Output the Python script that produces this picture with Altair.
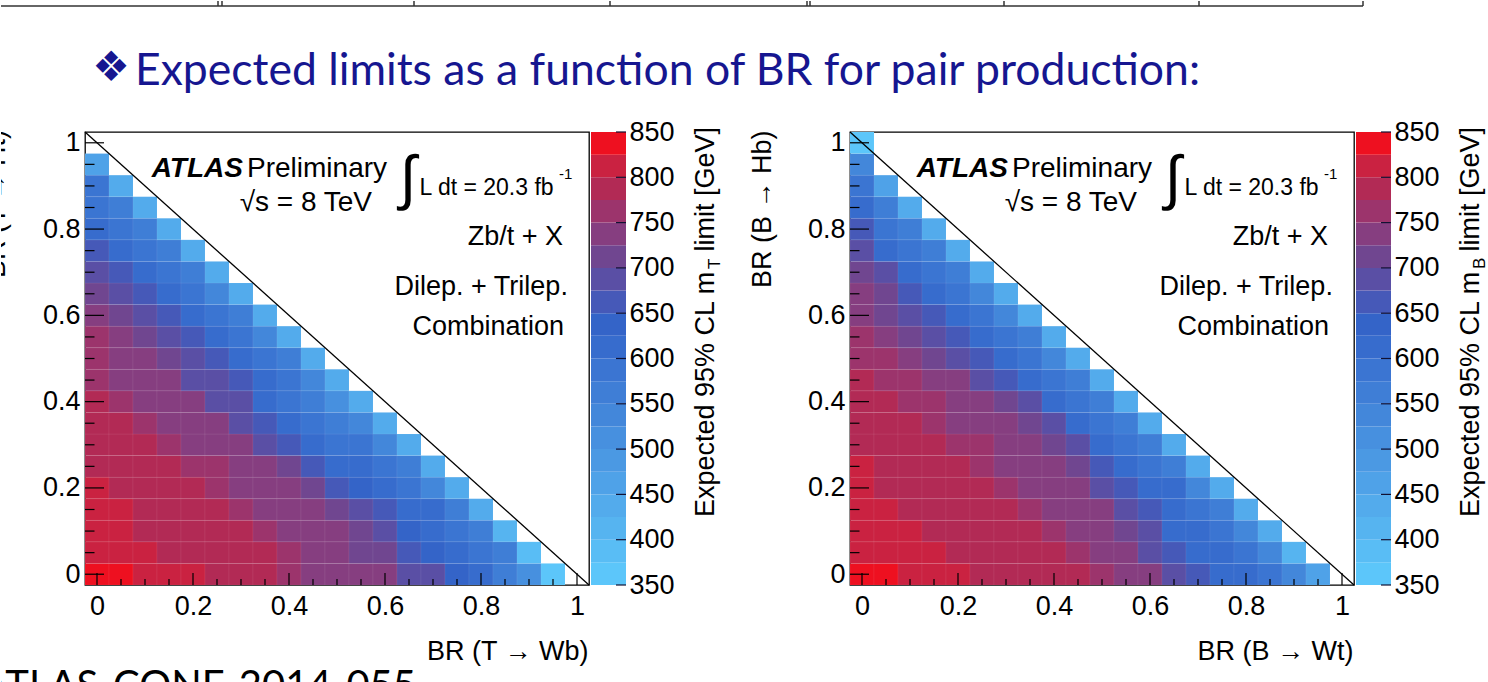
import altair as alt
import pandas as pd

# ---------------------------------------------------------------- data ----
BR_STEP = 0.05  # spacing of the branching-ratio scan

# Expected 95% CL lower limits on the vector-like quark mass [GeV].
# Row j is BR(Q -> Hq) = 0.05*j, entry i of a row is BR(Q -> Wq') = 0.05*i.
t_limits = [
    [825, 840, 820, 815, 805, 790, 785, 780, 760, 745, 735, 735, 740, 690, 675, 625, 600, 570, 520, 370],
    [815, 815, 805, 785, 780, 780, 780, 775, 760, 745, 730, 720, 705, 670, 625, 600, 595, 570, 380],
    [815, 815, 785, 780, 780, 780, 775, 760, 745, 735, 725, 705, 680, 625, 610, 595, 560, 420],
    [815, 805, 780, 780, 780, 780, 760, 745, 735, 725, 705, 690, 665, 615, 600, 570, 430],
    [805, 785, 780, 780, 780, 760, 745, 740, 725, 705, 670, 640, 610, 590, 545, 430],
    [785, 780, 780, 780, 760, 755, 740, 735, 705, 670, 615, 600, 580, 550, 430],
    [780, 780, 780, 760, 745, 740, 725, 690, 670, 620, 595, 575, 545, 440],
    [780, 775, 755, 745, 740, 725, 685, 670, 610, 595, 570, 545, 430],
    [780, 760, 745, 740, 725, 685, 675, 615, 595, 570, 520, 430],
    [765, 745, 740, 725, 690, 675, 665, 610, 585, 545, 430],
    [765, 745, 740, 705, 685, 665, 610, 595, 560, 430],
    [755, 740, 700, 685, 665, 610, 580, 540, 430],
    [745, 705, 685, 665, 615, 595, 550, 430],
    [705, 690, 665, 615, 590, 545, 435],
    [690, 665, 615, 595, 555, 430],
    [670, 615, 585, 560, 430],
    [610, 590, 570, 430],
    [590, 550, 440],
    [575, 425],
    [450],
]

b_limits = [
    [840, 825, 820, 815, 805, 790, 785, 785, 780, 775, 765, 745, 740, 690, 670, 620, 600, 575, 525, 450],
    [815, 815, 815, 815, 790, 785, 780, 780, 775, 760, 745, 735, 685, 665, 610, 600, 585, 545, 420],
    [815, 815, 805, 785, 780, 780, 780, 780, 760, 745, 740, 705, 675, 615, 600, 585, 545, 430],
    [815, 805, 785, 785, 780, 780, 780, 760, 745, 740, 725, 685, 665, 610, 595, 550, 430],
    [805, 785, 785, 780, 780, 780, 760, 745, 740, 725, 685, 670, 620, 600, 545, 430],
    [805, 785, 780, 780, 780, 760, 745, 740, 735, 705, 665, 610, 595, 550, 430],
    [785, 780, 780, 780, 760, 755, 740, 735, 720, 685, 620, 595, 550, 435],
    [780, 780, 780, 760, 745, 740, 735, 705, 675, 620, 595, 555, 430],
    [780, 780, 760, 755, 740, 735, 705, 675, 615, 595, 555, 430],
    [780, 760, 755, 740, 735, 685, 665, 610, 595, 550, 430],
    [765, 760, 740, 720, 685, 665, 610, 595, 545, 430],
    [765, 740, 720, 690, 670, 610, 595, 550, 430],
    [735, 720, 685, 665, 610, 585, 540, 430],
    [725, 705, 670, 620, 595, 545, 430],
    [720, 675, 615, 595, 555, 435],
    [685, 620, 595, 555, 430],
    [650, 595, 560, 435],
    [610, 570, 435],
    [595, 460],
    [545],
    [370],
]

axis_ticks = [0, 0.2, 0.4, 0.6, 0.8, 1.0]
minor_ticks = [0.05, 0.1, 0.15, 0.25, 0.3, 0.35, 0.45, 0.5, 0.55,
               0.65, 0.7, 0.75, 0.85, 0.9, 0.95]

band_edges = [350, 375, 400, 425, 450, 475, 500, 525, 550, 575, 600,
              625, 650, 675, 700, 725, 750, 775, 800, 825, 850]
bar_ticks = [350, 400, 450, 500, 550, 600, 650, 700, 750, 800, 850]
palette = [
    "#5cc6fa", "#59bdf5", "#56b4f0", "#53abec", "#4fa2e8",
    "#4b99e3", "#4790df", "#4387da", "#3f7ed6", "#3b75d2",
    "#376ccd", "#3464c8", "#4659b8", "#5a4fa5", "#704690",
    "#863e80", "#9c346c", "#b22a55", "#ca2241", "#ee1020",
]

headline = "Expected limits as a function of BR for pair production:"
bullet = "\u2756"
reference_note = "ATLAS-CONF-2014-055"
table_edges = [217, 221, 413, 609, 806, 809, 1003, 1198, 1362]

label_lines = ["Zb/t + X", "Dilep. + Trilep.", "Combination"]

# -------------------------------------------------------------- layout ----
FONT = "Liberation Sans"
SLIDE_FONT = "Lato"
SLIDE_BLUE = "#161690"
PANEL_W, PANEL_H = 504, 453
BAR_W = 35
GUTTER_W = 84
HEADER_W, HEADER_H = 1400, 117
FOOTER_W, FOOTER_H = 600, 20
TXT = 27

LO, HI = -BR_STEP / 2, 1 + BR_STEP / 2
limit_scale = alt.Scale(type="quantize", domain=[350, 850], range=palette)


def one_row(**kw):
    return pd.DataFrame({k: [v] for k, v in kw.items()})


def panel(limits, x_title, y_title=None):
    recs = []
    for j, row in enumerate(limits):
        for i, v in enumerate(row):
            cx, cy = i * BR_STEP, j * BR_STEP
            recs.append({"x0": cx - BR_STEP / 2, "x1": cx + BR_STEP / 2,
                         "y0": cy - BR_STEP / 2, "y1": cy + BR_STEP / 2,
                         "limit": v})
    cells = pd.DataFrame(recs)

    br_x = alt.Scale(domain=[LO, HI], nice=False, zero=False)
    br_y = alt.Scale(domain=[LO, HI], nice=False, zero=False)
    x_axis = alt.Axis(values=axis_ticks, format="~g", title=x_title,
                      labelPadding=8, labelFlush=False, labelOverlap=False,
                      titleX=PANEL_W - 1, titleY=74, titleAlign="right",
                      titleBaseline="alphabetic", titleAngle=0)
    y_kw = dict(values=axis_ticks, format="~g", labelPadding=5,
                labelFlush=False, labelOverlap=False)
    if y_title:
        y_kw.update(title=y_title, titleX=-80, titleY=-2, titleAngle=270,
                    titleAlign="right", titleBaseline="alphabetic")
    else:
        y_kw.update(title="")
    y_axis = alt.Axis(**y_kw)

    def X(f):
        return alt.X(f, type="quantitative", scale=br_x, axis=x_axis)

    def Y(f):
        return alt.Y(f, type="quantitative", scale=br_y, axis=y_axis)

    heat = alt.Chart(cells).mark_rect(stroke="#ffffff", strokeWidth=0.6,
                                      strokeOpacity=0.1).encode(
        x=X("x0"), x2="x1:Q", y=Y("y0"), y2="y1:Q",
        color=alt.Color("limit:Q", scale=limit_scale, legend=None),
    )

    diag = alt.Chart(one_row(a=LO, b=HI)).mark_rule(
        color="black", strokeWidth=1.3).encode(
        x=X("a"), y=Y("b"), x2="b:Q", y2="a:Q")

    # ROOT-style ticks drawn inside the frame
    bx_len = 12 / PANEL_H * (HI - LO)
    ly_len = 19 / PANEL_W * (HI - LO)
    tick_rows = ([{"t": t, "bl": LO + bx_len, "ll": LO + ly_len} for t in axis_ticks] +
                 [{"t": t, "bl": LO + bx_len / 2, "ll": LO + ly_len / 2} for t in minor_ticks])
    ticks = pd.DataFrame(tick_rows)
    ticks["lo"] = LO
    bottom_ticks = alt.Chart(ticks).mark_rule(color="black", strokeWidth=1.2).encode(
        x=X("t"), y=Y("lo"), y2="bl:Q")
    left_ticks = alt.Chart(ticks).mark_rule(color="black", strokeWidth=1.2).encode(
        y=Y("t"), x=X("lo"), x2="ll:Q")

    def txt(text, x, y, align="left", size=TXT, **style):
        return alt.Chart(one_row(s=text, x=x, y=y)).mark_text(
            align=align, baseline="alphabetic", font=FONT, fontSize=size,
            color="black", **style).encode(x=X("x"), y=Y("y"), text="s:N")

    notes = [
        txt("ATLAS", 0.304, 0.921, align="right", size=28,
            fontWeight="bold", fontStyle="italic"),
        txt("Preliminary", 0.3125, 0.921, size=28),
        txt("\u221As = 8 TeV", 0.573, 0.842, align="right", size=28),
        txt("\u222B", 0.648, 0.872, align="center", size=60),
        txt("L dt = 20.3 fb", 0.672, 0.879, size=23),
        txt("-1", 0.9625, 0.916, size=15),
        txt(label_lines[0], 0.971, 0.763, align="right"),
        txt(label_lines[1], 0.981, 0.647, align="right"),
        txt(label_lines[2], 0.973, 0.555, align="right"),
    ]

    return alt.layer(heat, diag, bottom_ticks, left_ticks, *notes).properties(
        width=PANEL_W, height=PANEL_H,
        view=alt.ViewBackground(stroke="black", strokeWidth=1.3))


def colour_bar(sub):
    bands = pd.DataFrame({"lo": band_edges[:-1], "hi": band_edges[1:]})
    bands["mid"] = (bands["lo"] + bands["hi"]) / 2
    v_scale = alt.Scale(domain=[band_edges[0], band_edges[-1]], nice=False, zero=False)
    v_axis = alt.Axis(values=bar_ticks, orient="right", labelPadding=3,
                      labelFlush=False, labelOverlap=False, title="")

    bar = alt.Chart(bands).mark_rect().encode(
        x=alt.value(0), x2=alt.value(BAR_W),
        y=alt.Y("lo:Q", scale=v_scale, axis=v_axis), y2="hi:Q",
        color=alt.Color("mid:Q", scale=limit_scale, legend=None))
    ticks = alt.Chart(pd.DataFrame({"v": bar_ticks})).mark_rule(
        color="#111133", strokeWidth=1.2).encode(
        y=alt.Y("v:Q", scale=v_scale, axis=v_axis),
        x=alt.value(BAR_W - 10), x2=alt.value(BAR_W))

    def rot(text, x, y, align, size):
        return alt.Chart(one_row(s=text)).mark_text(
            angle=270, align=align, baseline="alphabetic", font=FONT,
            fontSize=size, color="black").encode(
            text="s:N", x=alt.value(x), y=alt.value(y))

    # axis title with a subscripted quark label, read bottom to top
    title = [
        rot("Expected 95% CL m", 123, 385, "left", TXT),
        rot(sub, 129, 137, "left", 17),
        rot("limit [GeV]", 123, -5, "right", TXT),
    ]
    return alt.layer(bar, ticks, *title).properties(width=BAR_W, height=PANEL_H)


def spacer(w):
    return alt.Chart(one_row(s="")).mark_text().encode(
        text="s:N", x=alt.value(0), y=alt.value(0)).properties(width=w, height=PANEL_H)


gutter = alt.Chart(one_row(s="BR (T \u2192 Ht)")).mark_text(
    angle=270, align="right", baseline="alphabetic", font=FONT, fontSize=TXT,
    color="black", clip=True).encode(
    text="s:N", x=alt.value(GUTTER_W - 80), y=alt.value(-2)).properties(
    width=GUTTER_W, height=PANEL_H)

left = panel(t_limits, "BR (T \u2192 Wb)")
right = panel(b_limits, "BR (B \u2192 Wt)", "BR (B \u2192 Hb)")

body = alt.hconcat(
    gutter, left, spacer(2), colour_bar("T"), spacer(224),
    right, spacer(2), colour_bar("B"),
    spacing=0, bounds="flush",
).resolve_scale(color="independent")

# slide header: edge of the table above and the headline
slide_x = alt.Scale(domain=[0, HEADER_W], nice=False, zero=False)
table_v = alt.Chart(pd.DataFrame({"x": table_edges})).mark_rule(
    color="#333333", strokeWidth=1.5).encode(
    x=alt.X("x:Q", scale=slide_x, axis=None), y=alt.value(0), y2=alt.value(5))
table_h = alt.Chart(one_row(x=0, x2=table_edges[-1])).mark_rule(
    color="#333333", strokeWidth=1.5).encode(
    x=alt.X("x:Q", scale=slide_x, axis=None), x2="x2:Q", y=alt.value(5))
bullet_mark = alt.Chart(one_row(s=bullet)).mark_text(
    align="center", baseline="middle", font="DejaVu Sans", fontSize=42,
    color=SLIDE_BLUE).encode(text="s:N", x=alt.value(110), y=alt.value(67))
headline_mark = alt.Chart(one_row(s=headline)).mark_text(
    align="left", baseline="alphabetic", font=SLIDE_FONT, fontSize=44.5,
    color=SLIDE_BLUE).encode(text="s:N", x=alt.value(134), y=alt.value(84))
header = alt.layer(table_v, table_h, bullet_mark, headline_mark).properties(
    width=HEADER_W, height=HEADER_H)

footer = alt.Chart(one_row(s=reference_note)).mark_text(
    align="right", baseline="alphabetic", font=SLIDE_FONT, fontSize=40,
    color="black", clip=True).encode(
    text="s:N", x=alt.value(415), y=alt.value(34)).properties(
    width=FOOTER_W, height=FOOTER_H)

chart = alt.vconcat(header, body, footer, spacing=0).properties(
    padding=0,
).configure_view(stroke=None).configure_axis(
    labelFont=FONT, labelFontSize=TXT, labelColor="black",
    titleFont=FONT, titleFontSize=TXT, titleColor="black",
    titleFontWeight="normal", domain=False, ticks=False, grid=False,
)

chart.save("out.html", embed_options={"renderer": "svg", "actions": False})
